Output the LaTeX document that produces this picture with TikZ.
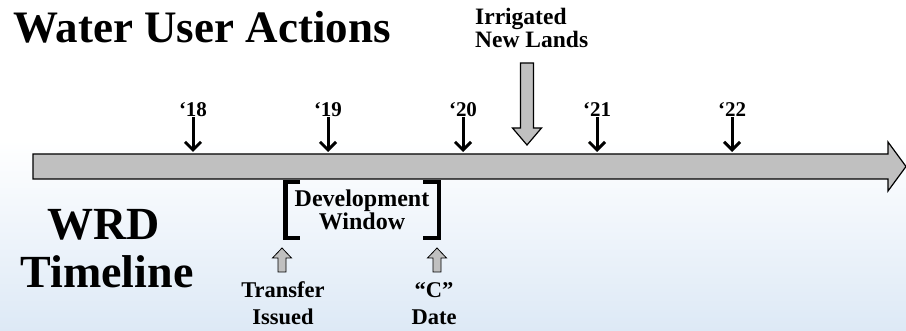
\documentclass[tikz,border=0pt]{standalone}
\usepackage{fontspec}
\setmainfont{Liberation Serif}
\usetikzlibrary{arrows.meta}
\definecolor{bargray}{RGB}{192,192,192}
\definecolor{wrdblue}{RGB}{221,233,246}
\tikzset{
	yeartick/.style={line width=3pt,-{Straight Barb[length=8pt,width=16pt]}},
	yearlabel/.style={font=\fontsize{21}{23}\selectfont\bfseries, inner sep=0pt, anchor=base},
	eventlabel/.style={font=\fontsize{22.5}{27}\selectfont\bfseries, align=center, inner sep=0pt, anchor=base},
	bigtitle/.style={font=\fontsize{46}{50}\selectfont\bfseries, inner sep=0pt, anchor=base},
	grayshape/.style={fill=bargray, draw=black, line width=1.2pt, line join=miter},
	bracketline/.style={line width=4.5pt, line join=miter}
}

\begin{document}
\begin{tikzpicture}[x=1pt, y=-1pt]
	\useasboundingbox (0,0) rectangle (906,331);
	\shade[top color=white, bottom color=wrdblue] (0,140) rectangle (906,331);
	\draw[grayshape] (33,154) -- (888,154) -- (888,142) -- (906,166.5) -- (888,191) -- (888,179) -- (33,179) -- cycle;
	\node[bigtitle, anchor=base west, font=\fontsize{45}{50}\selectfont\bfseries] (title) at (13,43) {Water User Actions};
	\node[bigtitle] (wrd) at (104,240) {WRD};
	\node[bigtitle] (timeline) at (107,288) {Timeline};
	\foreach \yr/\x in {18/193,19/328,20/463,21/597,22/732}{
		\node[yearlabel] (y\yr) at (\x,117) {‘\yr};
		\coordinate (t\yr) at (\x,152);
		\draw[yeartick] (y\yr.south) -- (t\yr);
	}
	\node[eventlabel, anchor=base west, align=left, font=\fontsize{23.5}{23}\selectfont\bfseries] (irrigated) at (475,48) {Irrigated\\New Lands};
	\draw[grayshape] (520.5,63) -- (533.5,63) -- (533.5,128) -- (541.5,128) -- (527,145) -- (512.5,128) -- (520.5,128) -- cycle;
	\draw[bracketline] (300,182) -- (285.5,182) -- (285.5,238) -- (300,238);
	\draw[bracketline] (423,182) -- (439,182) -- (439,238) -- (423,238);
	\node[eventlabel, font=\fontsize{24}{23}\selectfont\bfseries] (window) at (362,230) {Development\\Window};
	\foreach \x in {282,437}
		\draw[grayshape, line width=0.8pt] (\x,248) -- ({\x+9.5},258) -- ({\x+4},258) -- ({\x+4},272) -- ({\x-4},272) -- ({\x-4},258) -- ({\x-9.5},258) -- cycle;
	\node[eventlabel] (transfer) at (283,325) {Transfer\\Issued};
	\node[eventlabel] (cdate) at (434,325) {“C”\\Date};
\end{tikzpicture}
\end{document}
